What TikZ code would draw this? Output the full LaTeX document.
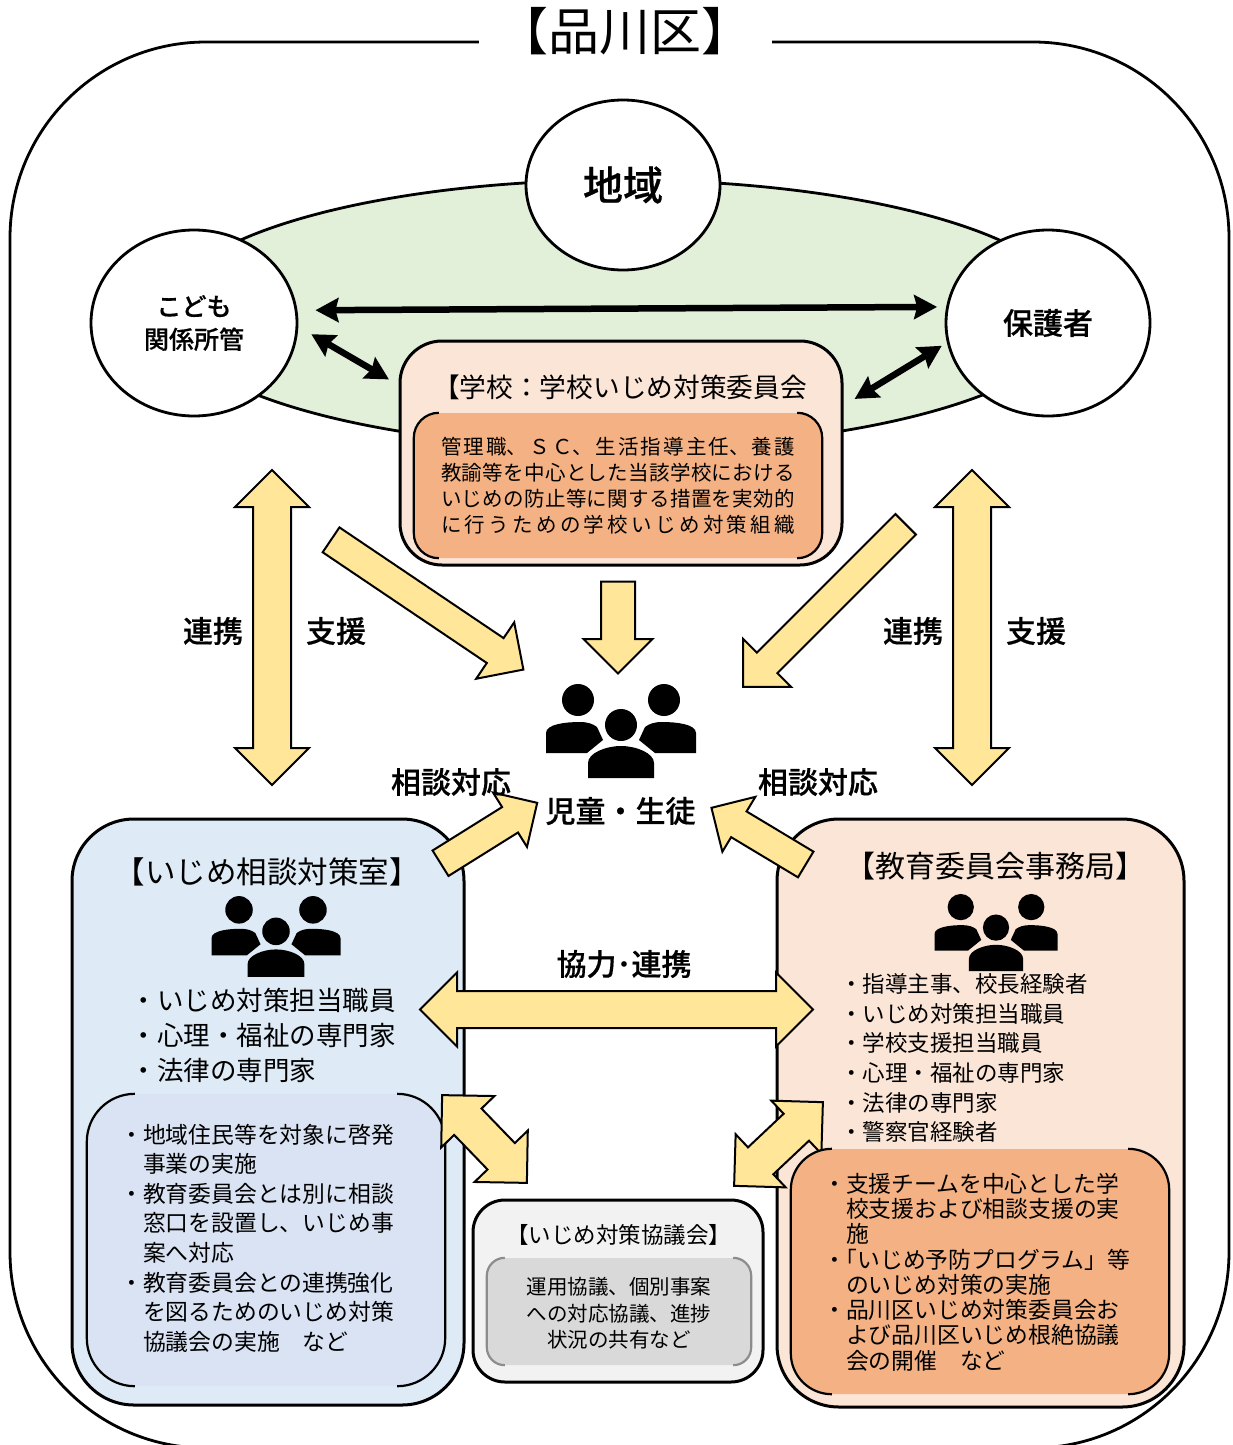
\documentclass[tikz,border=0pt]{standalone}
\usepackage{fontspec}
\setmainfont{Noto Sans CJK JP}[BoldFont={Noto Sans CJK JP Medium},BoldFeatures={FakeBold=0.5}]
\XeTeXlinebreaklocale "ja"
\XeTeXlinebreakskip=0pt plus 2pt
\lineskiplimit=-100pt
\usepackage{xcolor}
\definecolor{myyellow}{RGB}{255,230,153}
\definecolor{mygreen}{RGB}{226,240,217}
\definecolor{mypeach}{RGB}{251,229,214}
\definecolor{myorange}{RGB}{244,177,131}
\definecolor{myblue}{RGB}{222,235,247}
\definecolor{myblue2}{RGB}{218,227,243}
\definecolor{mygray}{RGB}{242,242,242}
\definecolor{mygray2}{RGB}{217,217,217}
\usetikzlibrary{arrows.meta,shapes.arrows,shapes.geometric,positioning}
\tikzstyle{place}=[draw,fill=white,ellipse,line width=2.8pt,inner sep=0pt]
\tikzstyle{outer}=[draw,rectangle,line width=3pt,inner sep=0pt]
\tikzstyle{inner}=[rectangle,inner sep=0pt]
\tikzstyle{one}=[draw,fill=myyellow,single arrow,line width=2pt,inner xsep=0pt,single arrow tip angle=90]
\tikzstyle{two}=[draw,fill=myyellow,double arrow,line width=2pt,inner xsep=0pt,double arrow tip angle=90]
\tikzstyle{link}=[line width=6.5pt,{Stealth[length=23pt,width=24pt,inset=3pt]}-{Stealth[length=23pt,width=24pt,inset=3pt]}]
\tikzstyle{big}=[font=\bfseries\fontsize{30}{36}\selectfont,inner sep=0pt]
\newcommand{\brackets}[4]{% node, arm length, radius, colour
  \draw[#4,line width=2.2pt,rounded corners=#3] ([xshift=#2]#1.north west) -- (#1.north west) -- (#1.south west) -- ([xshift=#2]#1.south west);
  \draw[#4,line width=2.2pt,rounded corners=#3] ([xshift=-#2]#1.north east) -- (#1.north east) -- (#1.south east) -- ([xshift=-#2]#1.south east);
}
\tikzset{people/.pic={
  \fill (-43,-31) circle (16) (43,-31) circle (16) (0,-6) circle (16);
  \fill (-75,22) -- (-75,2) .. controls (-75,-7) and (-55,-9) .. (-41,-9) .. controls (-33,-9) and (-28,-7) .. (-24,-4) -- (-18,9) -- (-34,22) -- cycle;
  \fill (75,22) -- (75,2) .. controls (75,-7) and (55,-9) .. (41,-9) .. controls (33,-9) and (28,-7) .. (24,-4) -- (18,9) -- (34,22) -- cycle;
  \fill (-33,47) -- (-33,32) .. controls (-33,22) and (-15,15) .. (0,15) .. controls (15,15) and (33,22) .. (33,32) -- (33,47) -- cycle;
}}
\begin{document}
\begin{tikzpicture}[x=1pt,y=-1pt]
\useasboundingbox (0,0) rectangle (1232,1445);
\clip (0,0) rectangle (1232,1445);
% frame
\node [outer,line width=2.8pt,minimum width=1219pt,minimum height=1406pt,rounded corners=196pt] (ward) at (619.5,745) {};
\node [fill=white,inner sep=19pt,font=\fontsize{51}{60}\selectfont] (wardname) at (625,31.5) {【品川区】};
% community
\node [draw,fill=mygreen,ellipse,line width=2.8pt,minimum width=910pt,minimum height=268pt,inner sep=0pt] (area) at (620,314) {};
\node [place,minimum width=194pt,minimum height=170pt,font=\bfseries\fontsize{40}{48}\selectfont] (local) at (623,185) {地域};
\node [place,minimum width=206pt,minimum height=186pt,align=center,font=\bfseries\fontsize{25}{33}\selectfont] (kodomo) at (194,323) {こども\\関係所管};
\node [place,minimum width=204pt,minimum height=186pt,font=\bfseries\fontsize{30}{36}\selectfont] (hogo) at (1048,323) {保護者};
% school
\node [outer,fill=mypeach,minimum width=442pt,minimum height=224pt,rounded corners=42pt] (school) at (621,453) {};
\node [inner,fill=myorange,minimum width=408pt,minimum height=145pt,rounded corners=25pt] (schoolin) at (618,485.5) {};
\brackets{schoolin}{25pt}{25pt}{black}
\node [inner sep=0pt,font=\fontsize{26.7}{32}\selectfont] (schoolname) at (620,387) {【学校：学校いじめ対策委員会};
\node [inner sep=0pt,text width=354pt,align=justify,font=\fontsize{20.5}{26}\selectfont] (schooltext) at (618,486) {管理職、ＳＣ、生活指導主任、養護\linebreak 教諭等を中心とした当該学校における\linebreak いじめの防止等に関する措置を実効的\linebreak \hbox to 354pt{に\hfill{}行\hfill{}う\hfill{}た\hfill{}め\hfill{}の\hfill{}学\hfill{}校\hfill{}い\hfill{}じ\hfill{}め\hfill{}対\hfill{}策\hfill{}組\hfill{}織}};
\draw [link,shorten <=18pt,shorten >=9pt] (kodomo.7) -- (hogo.171.4);
\draw [link,shorten <=15pt,shorten >=11pt] (kodomo.-2) -- (school.163);
\draw [link,shorten <=13pt,shorten >=6pt] (school.12.5) -- (hogo.191);
% children
\pic at (621,731) {people};
\node [big] (children) at (620.5,811) {児童・生徒};
\node [two,inner ysep=18pt,minimum height=315pt,double arrow head extend=18pt,rotate=90] (a1) at (272,627.5) {};
\node [two,inner ysep=18pt,minimum height=315pt,double arrow head extend=18pt,rotate=90] (a2) at (972,627.5) {};
\node [one,inner ysep=14pt,minimum height=232pt,single arrow head extend=19pt,rotate=-34] (a3) at (421,600.5) {};
\node [one,inner ysep=16pt,minimum height=92pt,single arrow head extend=17.5pt,rotate=-90] (a4) at (618,619) {};
\node [one,inner ysep=13.5pt,minimum height=230pt,single arrow head extend=19.5pt,rotate=-135] (a5) at (829.5,600.5) {};
\node [big] (l1) at (213,631) {連携};
\node [big] (l2) at (336,631) {支援};
\node [big] (l3) at (913,631) {連携};
\node [big] (l4) at (1036,631) {支援};
% counselling room
\node [outer,fill=myblue,minimum width=392pt,minimum height=586pt,rounded corners=62pt] (room) at (268,1112) {};
\node [inner,fill=myblue2,minimum width=358pt,minimum height=292pt,rounded corners=48pt] (roomin) at (266,1240) {};
\brackets{roomin}{48pt}{48pt}{black}
\node [inner sep=0pt,font=\fontsize{30.5}{36}\selectfont] (roomname) at (267,872) {【いじめ相談対策室】};
\pic [scale=.86] at (276,936.5) {people};
\node [inner sep=0pt,anchor=west,align=left,font=\fontsize{26.5}{35}\selectfont] (roomlist) at (130.5,1035) {・いじめ対策担当職員\\・心理・福祉の専門家\\・法律の専門家};
\node [inner sep=0pt,anchor=west,align=left,font=\fontsize{22.8}{29.6}\selectfont] (roomtext) at (120,1238) {・地域住民等を対象に啓発\\　事業の実施\\・教育委員会とは別に相談\\　窓口を設置し、いじめ事\\　案へ対応\\・教育委員会との連携強化\\　を図るためのいじめ対策\\　協議会の実施　など};
% board of education
\node [outer,fill=mypeach,minimum width=407pt,minimum height=588pt,rounded corners=62pt] (board) at (980.5,1113) {};
\node [two,inner ysep=17.5pt,minimum height=122pt,double arrow head extend=18pt,rotate=43.3] (a10) at (778.5,1144) {};
\node [inner,fill=myorange,minimum width=378pt,minimum height=245pt,rounded corners=41pt] (boardin) at (980,1271.5) {};
\brackets{boardin}{41pt}{41pt}{black}
\node [inner sep=0pt,font=\fontsize{30}{36}\selectfont] (boardname) at (995,866) {【教育委員会事務局】};
\pic [scale=.82] at (996,932.5) {people};
\node [inner sep=0pt,anchor=west,align=left,font=\fontsize{22.5}{29.7}\selectfont] (boardlist) at (840,1058) {・指導主事、校長経験者\\・いじめ対策担当職員\\・学校支援担当職員\\・心理・福祉の専門家\\・法律の専門家\\・警察官経験者};
\node [inner sep=0pt,anchor=west,align=left,font=\fontsize{22.8}{25.3}\selectfont] (boardtext) at (823,1272) {・支援チームを中心とした学\\　校支援および相談支援の実\\　施\\・\hspace{-.5em}「いじめ予防プログラム」等\\　のいじめ対策の実施\\・品川区いじめ対策委員会お\\　よび品川区いじめ根絶協議\\　会の開催　など};
% council
\node [outer,fill=mygray,minimum width=290pt,minimum height=182pt,rounded corners=32pt] (council) at (618,1291) {};
\node [inner,fill=mygray2,minimum width=264pt,minimum height=107pt,rounded corners=18pt] (councilin) at (619,1311.5) {};
\brackets{councilin}{18pt}{18pt}{black!45}
\node [inner sep=0pt,font=\fontsize{22.5}{28}\selectfont] (councilname) at (618.5,1235) {【いじめ対策協議会】};
\node [inner sep=0pt,align=center,font=\fontsize{20.5}{26.5}\selectfont] (counciltext) at (619,1313.5) {運用協議、個別事案\\への対応協議、進捗\\状況の共有など};
% arrows between
\node [one,inner ysep=14pt,minimum height=114pt,single arrow head extend=17pt,rotate=32] (a6) at (482.5,837) {};
\node [one,inner ysep=14pt,minimum height=110pt,single arrow head extend=17pt,rotate=149] (a7) at (765,840) {};
\node [two,inner ysep=17.5pt,minimum height=393pt,double arrow head extend=18.5pt] (a8) at (616.5,1009.5) {};
\node [two,inner ysep=18pt,minimum height=122pt,double arrow head extend=18pt,rotate=-46] (a9) at (484.5,1139) {};
\node [big] (l5) at (451,782) {相談対応};
\node [big] (l6) at (818,782) {相談対応};
\node [big] (l7) at (624,964) {協力･連携};
\end{tikzpicture}
\end{document}
